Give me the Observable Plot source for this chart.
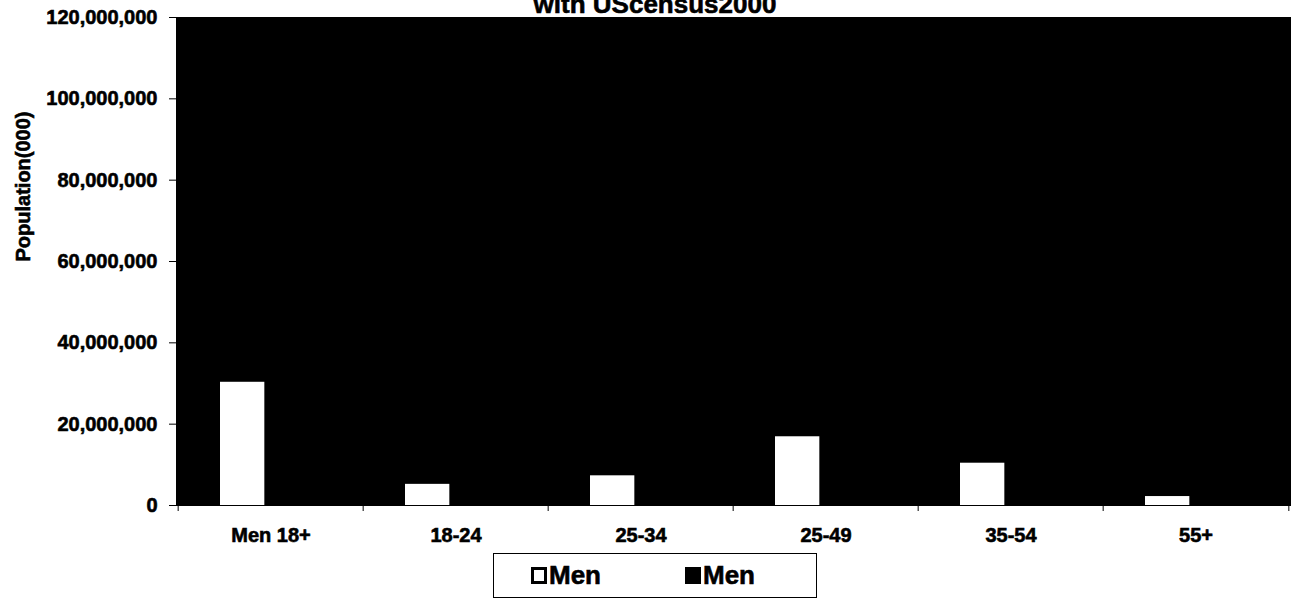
<!DOCTYPE html>
<html>
<head>
<meta charset="utf-8">
<script src="https://cdn.jsdelivr.net/npm/d3@7"></script>
<script src="https://cdn.jsdelivr.net/npm/@observablehq/plot@0.6"></script>
<style>
  html, body { margin: 0; padding: 0; background: #fff; }
  body { position: relative; width: 1296px; height: 599px; overflow: hidden;
         font-family: "Liberation Sans", Arial, sans-serif; font-weight: bold; color: #000; }
  #title { position: absolute; left: 0; width: 1310px; top: -9px; text-align: center;
           font-size: 26px; line-height: 26px; -webkit-text-stroke: 0.6px #000; z-index: 2; }
  #chart svg text { stroke: #000; stroke-width: 0.6px; }
  #legend { position: absolute; left: 493px; top: 553px; width: 324px; height: 45px;
            box-sizing: border-box; border: 1px solid #000; background: #fff; }
  .item { position: absolute; top: 0; height: 43px; display: flex; align-items: center;
          font-size: 26px; -webkit-text-stroke: 0.6px #000; }
  .swatch { width: 16px; height: 17px; box-sizing: border-box; border: 3px solid #000; margin-right: 2px; }
</style>
</head>
<body>
<div id="title">with UScensus2000</div>
<div id="chart"></div>
<div id="legend"></div>
<script>
// Age groups along the x axis
const groups = ["Men 18+", "18-24", "25-34", "25-49", "35-54", "55+"];
// Population of the first "Men" series (white bars)
const menWhite = [30300000, 5200000, 7300000, 16900000, 10400000, 2200000];
// Legend entries: both series are labelled "Men"
const seriesNames = ["Men", "Men"];
const seriesFills = ["#fff", "#000"];
// Y axis ticks
const yTicks = [0, 20000000, 40000000, 60000000, 80000000, 100000000, 120000000];
const yTitle = "Population(000)";

const data = groups.map((g, i) => ({group: g, value: menWhite[i]}));

const W = 1296, H = 545, mL = 176, mR = 6, mT = 17, mB = 40;
const step = (W - mL - mR) / groups.length;

const chart = Plot.plot({
  width: W,
  height: H,
  marginLeft: mL,
  marginRight: mR,
  marginTop: mT,
  marginBottom: mB,
  style: {
    fontFamily: "'Liberation Sans', Arial, sans-serif",
    fontWeight: "bold",
    fontSize: "20px",
    color: "#000",
    background: "transparent",
    overflow: "visible"
  },
  x: {domain: groups, padding: 0},
  y: {domain: [0, 120000000]},
  marks: [
    Plot.frame({fill: "#000", stroke: "#000"}),
    Plot.barY(data, {x: "group", y: "value", fill: "#fff", insetLeft: 42, insetRight: step - 87}),
    Plot.axisY({ticks: yTicks, tickFormat: d3.format(","), tickSize: 7, tickPadding: 12, label: null}),
    Plot.text([yTitle], {frameAnchor: "left", rotate: -90, dx: -153, text: d => d, fontSize: 20}),
    Plot.axisX({tickSize: 0, tickPadding: 22, label: null}),
    // boundary ticks between categories
    Plot.axisX({tickSize: 6, tickFormat: () => "", dx: -step / 2, label: null}),
    Plot.axisX({ticks: [groups[groups.length - 1]], tickSize: 6, tickFormat: () => "", dx: step / 2, label: null})
  ]
});
document.getElementById("chart").appendChild(chart);

// Legend
const legend = document.getElementById("legend");
const lefts = [37, 191];
seriesNames.forEach((name, i) => {
  const item = document.createElement("div");
  item.className = "item";
  item.style.left = lefts[i] + "px";
  const sw = document.createElement("span");
  sw.className = "swatch";
  sw.style.background = seriesFills[i];
  item.appendChild(sw);
  item.appendChild(document.createTextNode(name));
  legend.appendChild(item);
});
</script>
</body>
</html>
